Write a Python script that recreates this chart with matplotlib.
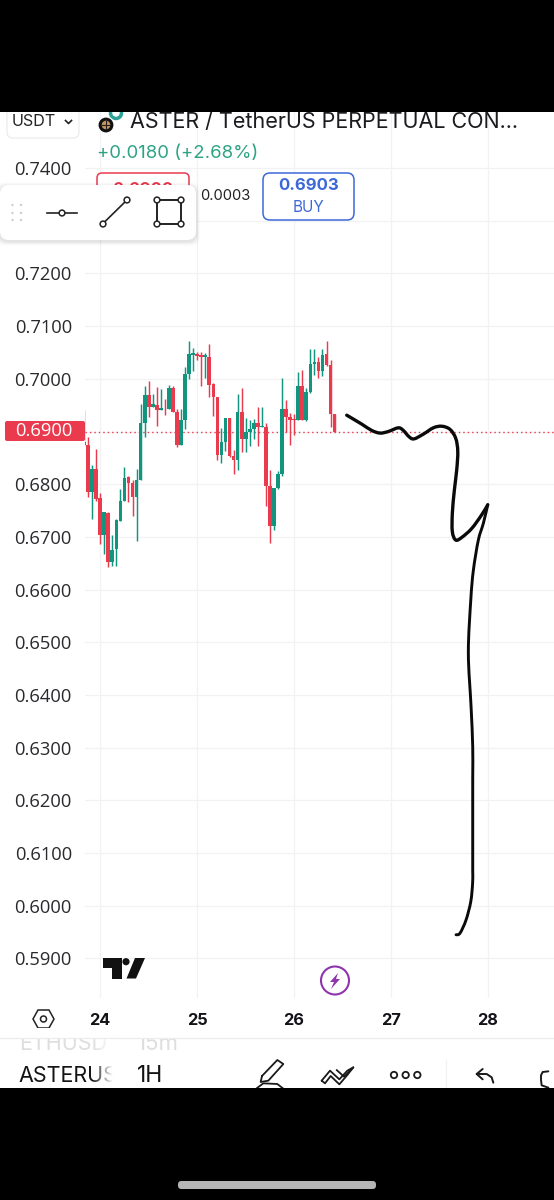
import numpy as np
import matplotlib
matplotlib.use("Agg")
import matplotlib.pyplot as plt
from matplotlib.patches import FancyBboxPatch, Rectangle, Circle, Polygon, PathPatch
from matplotlib.path import Path

plt.rcParams['font.family'] = ['Inter', 'DejaVu Sans']

opens = [.6881,.6875,.6785,.6829,.6774,.6703,.6745,.6652,.6677,.6731,.6768,.6813,.6802,.6775,.6808,.6916,.6970,.6947,.6951,.6941,.6945,.6943,.6982,.6937,.6875,.6922,.7009,.7046,.7047,.7046,.7042,.7042,.6991,.6966,
         .6856,.6880,.6926,.6853,.6845,.6937,.6886,.6900,.6905,.6916,.6909,.6909,.6796,.6721,.6793,.6820,.6942,.6928,.6923,.6921,.6987,.6921,.6975,.7028,.7032,.7015,.7047,.7027,.6934]
highs = [.6940,.6890,.6837,.6866,.6783,.6747,.6747,.6704,.6734,.6791,.6832,.6816,.6808,.6829,.6953,.6987,.6995,.6972,.6984,.6981,.6962,.6989,.6987,.6943,.6943,.7023,.7072,.7059,.7051,.7051,.7049,.7066,.6992,.6966,
         .6906,.6926,.6926,.6864,.6972,.6983,.6926,.6921,.6924,.6946,.6946,.6916,.6827,.6793,.6825,.7001,.6959,.6935,.6934,.7013,.7016,.6983,.7057,.7057,.7042,.7057,.7072,.7036,.6934]
lows = [.6873,.6775,.6734,.6769,.6687,.6668,.6642,.6644,.6645,.6730,.6768,.6766,.6739,.6692,.6808,.6889,.6928,.6947,.6911,.6941,.6932,.6943,.6937,.6870,.6875,.6905,.7000,.7015,.7035,.6987,.7002,.6966,.6930,.6845,
        .6840,.6863,.6851,.6820,.6827,.6861,.6861,.6873,.6886,.6872,.6909,.6758,.6688,.6713,.6791,.6816,.6899,.6875,.6894,.6921,.6921,.6920,.6973,.7008,.7001,.7006,.7025,.6909,.6900]
closes = [.6875,.6785,.6829,.6772,.6703,.6747,.6652,.6676,.6732,.6768,.6812,.6802,.6775,.6808,.6916,.6970,.6947,.6953,.6941,.6945,.6944,.6982,.6937,.6875,.6922,.7009,.7047,.7049,.7044,.7042,.7045,.6989,.6966,.6856,
          .6880,.6926,.6853,.6845,.6937,.6886,.6900,.6905,.6916,.6908,.6911,.6796,.6721,.6793,.6820,.6942,.6928,.6922,.6921,.6987,.6921,.6975,.7028,.7032,.7015,.7046,.7027,.6934,.6900]
first_day = 23.835
candles_per_day = 24
last_price = 0.69

sketch_days = [26.543,26.698,26.801,26.887,26.972,27.075,27.127,27.186,27.237,27.333,27.436,27.523,27.608,27.667,27.688,27.677,27.653,27.632,27.632,27.667,27.729,27.832,27.935,27.997,
               27.952,27.900,27.849,27.822,27.797,27.825,27.842,27.842,27.842,27.842,27.841,27.822,27.773,27.711,27.670]
sketch_prices = [.6931,.6914,.6902,.6897,.6900,.6907,.6902,.6890,.6886,.6895,.6907,.6910,.6904,.6887,.6862,.6827,.6789,.6745,.6710,.6694,.6699,.6716,.6742,.6761,
                 .6726,.6694,.6637,.6580,.6480,.6378,.6302,.6239,.6125,.6068,.6043,.6008,.5973,.5948,.5945]

price_ticks = [.74,.73,.72,.71,.70,.69,.68,.67,.66,.65,.64,.63,.62,.61,.60,.59]
day_ticks = [24,25,26,27,28]

GREEN, RED = '#12957f', '#e93a4e'
W, H = 554, 1200
fig = plt.figure(figsize=(W/100, H/100), dpi=100, facecolor='white')
ax = fig.add_axes([85/W, 1-998/H, (W-85)/W, (998-112)/H])
ax.set_xlim(23.845, 28.680)
ax.set_ylim(0.58250, 0.75063)
for s in ax.spines.values():
    s.set_visible(False)
ax.set_axisbelow(True)
ax.grid(True, color='#f2f2f4', lw=0.9)
ax.set_yticks(price_ticks)
ax.set_yticklabels(['' if abs(p-last_price) < 1e-9 else f'{p:.4f}' for p in price_ticks],
                   fontsize=13.2, color='#2a2a2e', family='Open Sans')
ax.set_xticks(day_ticks)
ax.set_xticklabels([str(d) for d in day_ticks], fontsize=11.8, fontweight='bold', color='#131318')
ax.tick_params(axis='y', length=0, pad=9.4)
ax.tick_params(axis='x', length=0, pad=10.5)

x = first_day + np.arange(len(opens)) / candles_per_day
o, h, l, c = map(np.array, (opens, highs, lows, closes))
colors = [GREEN if ci >= oi else RED for oi, ci in zip(o, c)]
ax.vlines(x, l, h, colors=colors, lw=1.05, zorder=3)
ax.bar(x, np.abs(c-o), bottom=np.minimum(o, c), width=3.7/97, color=colors, lw=0, zorder=4)
ax.axhline(last_price, color=RED, lw=1.0, ls=(0, (1, 2.2)), zorder=2)

def smooth_stroke(xs, ys, lw):
    xs, ys = np.array(xs), np.array(ys)
    pts = np.column_stack([xs, ys])
    verts, codes = [pts[0]], [Path.MOVETO]
    n = len(pts)
    for i in range(n-1):
        p0, p1, p2, p3 = pts[max(i-1, 0)], pts[i], pts[i+1], pts[min(i+2, n-1)]
        verts += [p1 + (p2-p0)/6, p2 - (p3-p1)/6, p2]
        codes += [Path.CURVE4]*3
    ax.add_patch(PathPatch(Path(verts, codes), fc='none', ec='#0a0a0a', lw=lw, capstyle='round', joinstyle='round', zorder=6))

smooth_stroke(sketch_days[:24], sketch_prices[:24], 2.4)
smooth_stroke(sketch_days[23:], sketch_prices[23:], 2.1)

# interface chrome in pixel coordinates
ui = fig.add_axes([0, 0, 1, 1], facecolor='none')
ui.set_xlim(0, W); ui.set_ylim(H, 0); ui.axis('off')

def rbox(x0, y0, x1, y1, r, **kw):
    p = FancyBboxPatch((x0+r, y0+r), x1-x0-2*r, y1-y0-2*r, boxstyle=f'round,pad={r},rounding_size={r}', **kw)
    ui.add_patch(p)
    return p

# header
rbox(7, 100, 79, 138, 6, fc='white', ec='#ececec', lw=0.9, zorder=2)
ui.text(12, 122, 'USDT', fontsize=11.6, color='#222', va='center', zorder=3)
ui.plot([65.5, 68.5, 71.5], [120.5, 123.5, 120.5], color='#222', lw=1.2, zorder=3)
ui.add_patch(Circle((116, 113), 5.5, fc='none', ec='#2aa396', lw=2.5, zorder=2))
ui.add_patch(Circle((106, 125), 8, fc='#111', ec='white', lw=0.8, zorder=3))
ui.add_patch(Circle((106, 125), 4.3, fc='#c9955e', ec='none', zorder=4))
ui.plot([102, 110], [125, 125], color='#222', lw=0.8, zorder=5)
ui.plot([106, 106], [121, 129], color='#222', lw=0.8, zorder=5)
ui.text(130, 122.5, 'ASTER / TetherUS PERPETUAL CON...', fontsize=15.5, color='#1c1c20', va='center', zorder=3)
ui.text(97, 154, '+0.0180 (+2.68%)', fontsize=13.4, color='#2ea384', va='center', zorder=3)
rbox(97, 173, 189, 215, 5, fc='white', ec=RED, lw=1.1, zorder=2)
ui.text(143, 189, '0.6900', fontsize=12, fontweight='bold', color=RED, va='center', ha='center', zorder=3)
ui.text(225.5, 196, '0.0003', fontsize=10.6, color='#222', va='center', ha='center', zorder=3)
rbox(263, 173, 354, 220, 7, fc='white', ec='#3d68d8', lw=1.1, zorder=2)
ui.text(308.5, 186, '0.6903', fontsize=12, fontweight='bold', color='#3d68d8', va='center', ha='center', zorder=3)
ui.text(308.5, 207, 'BUY', fontsize=11, color='#3d68d8', va='center', ha='center', zorder=3)

# toolbar
for pad, a in [(4, .015), (3, .02), (2, .03), (1, .04)]:
    rbox(0-pad, 185-pad+1.5, 196+pad, 240+pad+1.5, 9, fc='black', ec='none', alpha=a, zorder=4)
rbox(0, 185, 196, 240, 9, fc='white', ec='none', zorder=5)
for dx in (12.5, 21):
    for dy in (205, 213, 220):
        ui.add_patch(Circle((dx, dy), 1.2, fc='#cfcfd2', ec='none', zorder=6))
ui.plot([47, 77], [213, 213], color='#222', lw=1.2, zorder=6)
ui.plot([103, 127], [223.5, 200], color='#222', lw=1.2, zorder=6)
ui.add_patch(Rectangle((157, 200), 24, 24, fc='none', ec='#222', lw=1.4, zorder=6))
for cx, cy in [(62, 213), (103, 224), (127, 200), (157, 200), (181, 200), (157, 224), (181, 224)]:
    ui.add_patch(Circle((cx, cy), 2.9, fc='white', ec='#222', lw=1.1, zorder=7))

# price tag
rbox(5, 421, 85, 441, 2, fc=RED, ec='none', zorder=3)
ui.text(72, 431, '0.6900', fontsize=13.2, color='white', va='center', ha='right', family='Open Sans', zorder=4)

# TradingView mark
ui.add_patch(Polygon([(102.5, 958), (122, 958), (122, 978.5), (111.5, 978.5), (111.5, 967.5), (102.5, 967.5)], fc='#111', ec='none', zorder=3))
ui.add_patch(Circle((126, 961.7), 3.6, fc='#111', ec='none', zorder=3))
ui.add_patch(Polygon([(135, 958), (145, 958), (136, 978.5), (126.5, 978.5)], fc='#111', ec='none', zorder=3))
# bolt
ui.add_patch(Circle((335, 980.5), 14, fc='white', ec='#8e35ad', lw=1.5, zorder=3))
ui.add_patch(Polygon([(338, 973), (330, 982), (334, 982), (331, 989), (340, 979), (336, 979)], fc='#8e35ad', ec='none', zorder=4))
# hexagon
ui.add_patch(Polygon([(33, 1019), (38, 1010), (49, 1010), (54, 1019), (49, 1028), (38, 1028)], fc='white', ec='#222', lw=1.1, zorder=3))
ui.add_patch(Circle((43.5, 1019), 3, fc='white', ec='#222', lw=1.1, zorder=4))

# bottom bar
ui.add_patch(Rectangle((0, 1039), W, 50, fc='white', ec='none', zorder=2))
ui.text(19, 1044, 'ETHUSD', fontsize=15.5, color='#dedede', va='center', zorder=3)
ui.text(137, 1044, '15m', fontsize=16, color='#dedede', va='center', zorder=3)
ui.add_patch(Rectangle((0, 1028), W, 10, fc='white', ec='none', zorder=3.1))
ui.plot([0, W], [1038, 1038], color='#ececee', lw=0.9, zorder=3.2)
ui.text(18, 1076, 'ASTERUS', fontsize=15.5, color='#141414', va='center', zorder=3)
ui.text(137, 1076, '1H', fontsize=16.5, color='#141414', va='center', zorder=3)
ui.add_patch(Rectangle((113, 1040), 22, 46, fc='white', ec='none', zorder=3.5))
ui.imshow(np.linspace(0, 1, 30)[None, :, None] * np.array([[[0, 0, 0, 1]]]) + np.array([[[1, 1, 1, 0]]]),
          extent=(92, 113, 1088, 1039), zorder=3.4, aspect='auto', interpolation='bilinear')
ui.set_xlim(0, W); ui.set_ylim(H, 0)
# tool icons
def zline(pts, lw=1.3, zorder=3):
    xs = [240 + a/3 for a, b in pts]
    ys = [1050 + b/3 for a, b in pts]
    ui.plot(xs, ys, color='#1a1a1a', lw=lw, solid_joinstyle='round', solid_capstyle='round', zorder=zorder)
zline([(66, 78), (112, 30), (130, 42), (85, 92), (62, 96), (66, 78)])
zline([(50, 115), (70, 100), (112, 102), (130, 116)])
zline([(245, 92), (270, 62), (298, 88), (322, 62), (340, 52), (322, 75), (298, 103), (272, 78), (255, 100), (245, 92)])
zline([(290, 60), (312, 80), (340, 52)])
for cx in (462, 497, 532):
    ui.add_patch(Circle((240 + cx/3, 1075), 3.2, fc='white', ec='#1a1a1a', lw=1.3, zorder=3))
ui.plot([445.7, 445.7], [1060, 1088], color='#f0f0f0', lw=0.8, zorder=3)
zline([(728, 57), (710, 72), (728, 88)], lw=1.4)
zline([(710, 72), (740, 72), (755, 82), (760, 98)], lw=1.4)
zline([(925, 64), (908, 66), (903, 76), (903, 88)], lw=1.4)
zline([(903, 90), (905, 106), (925, 113)], lw=1.4)

# phone bars
ui.add_patch(Rectangle((0, 0), W, 111.5, fc='black', ec='none', zorder=8))
ui.add_patch(Rectangle((0, 1088), W, 112, fc='black', ec='none', zorder=8))
rbox(178, 1181, 376, 1189, 3.5, fc='#b5b5b5', ec='none', zorder=9)

fig.savefig('out.png', dpi=100, facecolor='white')
